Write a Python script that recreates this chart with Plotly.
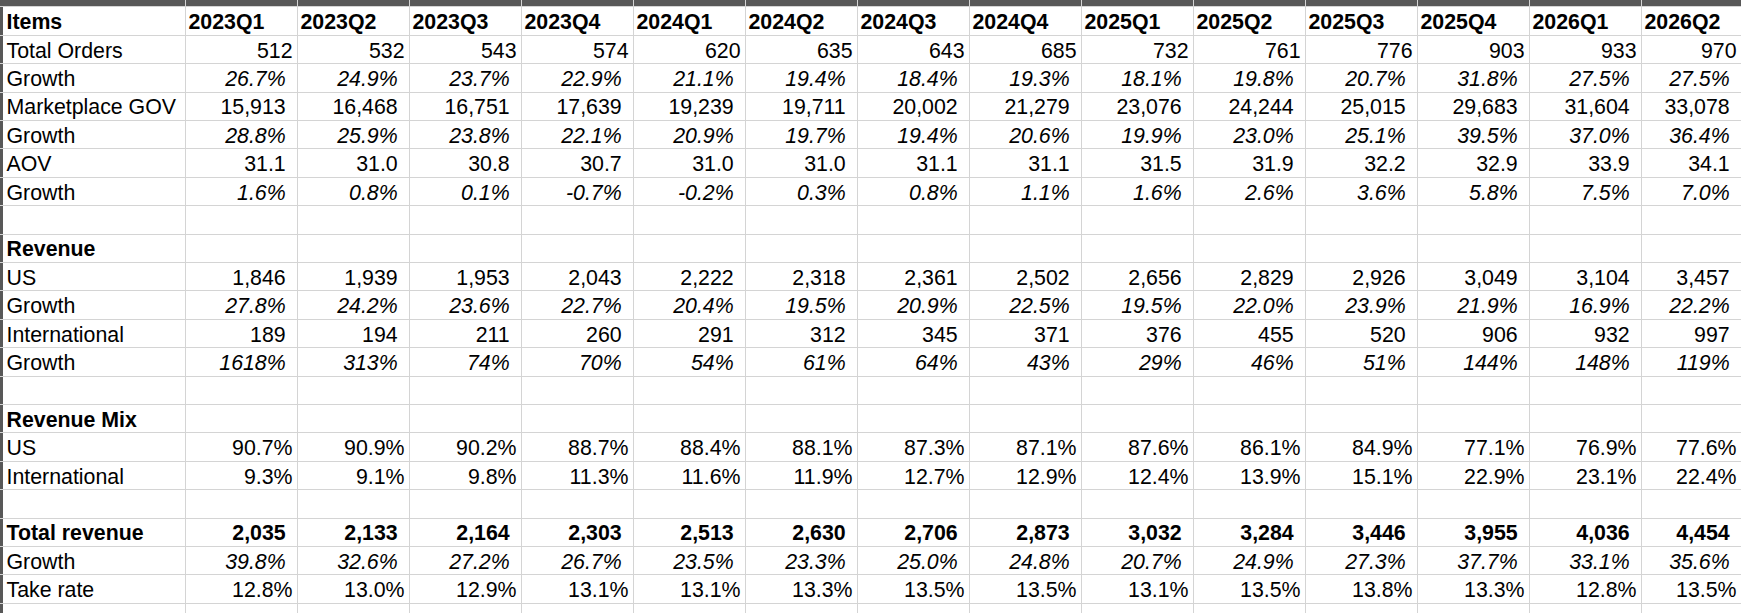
"""
Quarterly marketplace KPI sheet, redrawn as a spreadsheet-style grid.

Every cell is a text mark placed through the x/y axes, and the grid is the
axes' own gridlines at the column and row boundaries.
"""

import plotly.graph_objects as go


# ── data ──────────────────────────────────────────────────────────────────────

quarters = ["2023Q1", "2023Q2", "2023Q3", "2023Q4", "2024Q1", "2024Q2", "2024Q3",
            "2024Q4", "2025Q1", "2025Q2", "2025Q3", "2025Q4", "2026Q1", "2026Q2"]

total_orders  = [512, 532, 543, 574, 620, 635, 643, 685, 732, 761, 776, 903, 933, 970]
orders_growth = [26.7, 24.9, 23.7, 22.9, 21.1, 19.4, 18.4, 19.3, 18.1, 19.8, 20.7, 31.8, 27.5, 27.5]

gov        = [15913, 16468, 16751, 17639, 19239, 19711, 20002, 21279, 23076, 24244,
              25015, 29683, 31604, 33078]
gov_growth = [28.8, 25.9, 23.8, 22.1, 20.9, 19.7, 19.4, 20.6, 19.9, 23.0, 25.1, 39.5, 37.0, 36.4]

aov        = [31.1, 31.0, 30.8, 30.7, 31.0, 31.0, 31.1, 31.1, 31.5, 31.9, 32.2, 32.9, 33.9, 34.1]
aov_growth = [1.6, 0.8, 0.1, -0.7, -0.2, 0.3, 0.8, 1.1, 1.6, 2.6, 3.6, 5.8, 7.5, 7.0]

us_revenue = [1846, 1939, 1953, 2043, 2222, 2318, 2361, 2502, 2656, 2829, 2926, 3049, 3104, 3457]
us_growth  = [27.8, 24.2, 23.6, 22.7, 20.4, 19.5, 20.9, 22.5, 19.5, 22.0, 23.9, 21.9, 16.9, 22.2]

intl_revenue = [189, 194, 211, 260, 291, 312, 345, 371, 376, 455, 520, 906, 932, 997]
intl_growth  = [1618, 313, 74, 70, 54, 61, 64, 43, 29, 46, 51, 144, 148, 119]

us_mix   = [90.7, 90.9, 90.2, 88.7, 88.4, 88.1, 87.3, 87.1, 87.6, 86.1, 84.9, 77.1, 76.9, 77.6]
intl_mix = [9.3, 9.1, 9.8, 11.3, 11.6, 11.9, 12.7, 12.9, 12.4, 13.9, 15.1, 22.9, 23.1, 22.4]

total_revenue = [2035, 2133, 2164, 2303, 2513, 2630, 2706, 2873, 3032, 3284, 3446, 3955, 4036, 4454]
total_growth  = [39.8, 32.6, 27.2, 26.7, 23.5, 23.3, 25.0, 24.8, 20.7, 24.9, 27.3, 37.7, 33.1, 35.6]
take_rate     = [12.8, 13.0, 12.9, 13.1, 13.1, 13.3, 13.5, 13.5, 13.1, 13.5, 13.8, 13.3, 12.8, 13.5]

# (label, values, number format, style, right padding)
#   "paren" mimics Excel's "_)" trailing space, "tight" is a plain right align
rows = [
    ("Total Orders",    total_orders,  "int",  "normal", "tight"),
    ("Growth",          orders_growth, "pct1", "italic", "paren"),
    ("Marketplace GOV", gov,           "int",  "normal", "paren"),
    ("Growth",          gov_growth,    "pct1", "italic", "paren"),
    ("AOV",             aov,           "dec1", "normal", "paren"),
    ("Growth",          aov_growth,    "pct1", "italic", "paren"),
    (None, None, None, None, None),
    ("Revenue",         None,          None,   "bold",   None),
    ("US",              us_revenue,    "int",  "normal", "paren"),
    ("Growth",          us_growth,     "pct1", "italic", "paren"),
    ("International",   intl_revenue,  "int",  "normal", "paren"),
    ("Growth",          intl_growth,   "pct0", "italic", "paren"),
    (None, None, None, None, None),
    ("Revenue Mix",     None,          None,   "bold",   None),
    ("US",              us_mix,        "pct1", "normal", "tight"),
    ("International",   intl_mix,      "pct1", "normal", "tight"),
    (None, None, None, None, None),
    ("Total revenue",   total_revenue, "int",  "bold",   "paren"),
    ("Growth",          total_growth,  "pct1", "italic", "paren"),
    ("Take rate",       take_rate,     "pct1", "normal", "tight"),
]


# ── sheet geometry (pixels) ───────────────────────────────────────────────────

W, H = 1741, 613
FONT = "Liberation Sans, Arial, sans-serif"
FS = 21.33                 # 16pt Arial
HEAD_BAND = 6.9            # cut-off column-letter bar at the top
ROW_H = 28.4
LEFT_EDGE = 3              # cut-off row-number bar on the left
FIRST_COL_END = 185
COL_W = 112
PAD_LEFT = 3.5
PAD = {"tight": 4.5, "paren": 11.3}
BASE_PAD = 6.0             # baseline sits this far above the row's bottom line

col_edges = [LEFT_EDGE, FIRST_COL_END] + [FIRST_COL_END + COL_W * (i + 1) for i in range(13)]
col_edges.append(W)        # last column is cropped by the screenshot
n_rows = len(rows) + 1
row_edges = [HEAD_BAND + ROW_H * i for i in range(n_rows + 2)]


def text_y(row_idx):
    """y anchor for a 'middle' text so its baseline lands like Excel's."""
    return row_edges[row_idx + 1] - BASE_PAD - 0.25 * FS


def fmt(v, kind):
    if kind == "int":
        return f"{v:,}"
    if kind == "dec1":
        return f"{v:.1f}"
    if kind == "pct1":
        return f"{v:.1f}%"
    return f"{v:.0f}%"


def styled(s, style):
    if style == "bold":
        return f"<b>{s}</b>"
    if style == "italic":
        return f"<i>{s}</i>"
    return s


# ── cells ─────────────────────────────────────────────────────────────────────

left_x, left_y, left_t = [], [], []
right_x, right_y, right_t = [], [], []

# header row
left_x.append(col_edges[0] + PAD_LEFT)
left_y.append(text_y(0))
left_t.append("<b>Items</b>")
for j, q in enumerate(quarters):
    left_x.append(col_edges[j + 1] + PAD_LEFT)
    left_y.append(text_y(0))
    left_t.append(f"<b>{q}</b>")

for i, (label, values, kind, style, pad) in enumerate(rows, start=1):
    if label is None:
        continue
    left_x.append(col_edges[0] + PAD_LEFT)
    left_y.append(text_y(i))
    left_t.append(f"<b>{label}</b>" if values is None or style == "bold" else label)
    if values is None:
        continue
    for j, v in enumerate(values):
        right_x.append(col_edges[j + 2] - PAD[pad])
        right_y.append(text_y(i))
        right_t.append(styled(fmt(v, kind), style))

fig = go.Figure()
fig.add_trace(go.Scatter(
    x=left_x, y=left_y, text=left_t, mode="text", textposition="middle right",
    textfont=dict(family=FONT, size=FS, color="#000000"), hoverinfo="skip",
))
fig.add_trace(go.Scatter(
    x=right_x, y=right_y, text=right_t, mode="text", textposition="middle left",
    textfont=dict(family=FONT, size=FS, color="#000000"), hoverinfo="skip",
))

# dark header bars of the sheet, under the gridlines
bar = "#585858"
fig.add_shape(type="rect", x0=0, x1=W, y0=0, y1=HEAD_BAND, layer="below",
              line_width=0, fillcolor=bar)
fig.add_shape(type="rect", x0=0, x1=LEFT_EDGE, y0=0, y1=H, layer="below",
              line_width=0, fillcolor=bar)

grid = "#d4d4d4"
fig.update_xaxes(range=[0, W], tickvals=col_edges[1:-1], showgrid=True, gridcolor=grid,
                 gridwidth=1, zeroline=False, showticklabels=False, ticks="",
                 showline=False, fixedrange=True)
fig.update_yaxes(range=[H, 0], tickvals=row_edges, showgrid=True, gridcolor=grid,
                 gridwidth=1, zeroline=False, showticklabels=False, ticks="",
                 showline=False, fixedrange=True)

fig.update_layout(
    width=W, height=H,
    margin=dict(l=0, r=0, t=0, b=0),
    paper_bgcolor="#ffffff", plot_bgcolor="#ffffff",
    showlegend=False,
)

# the page's default body margin would push the sheet 8px right and down
fig.write_html(
    "out.html",
    config={"displayModeBar": False},
    post_script="document.body.style.margin='0';document.body.style.overflow='hidden';",
)
